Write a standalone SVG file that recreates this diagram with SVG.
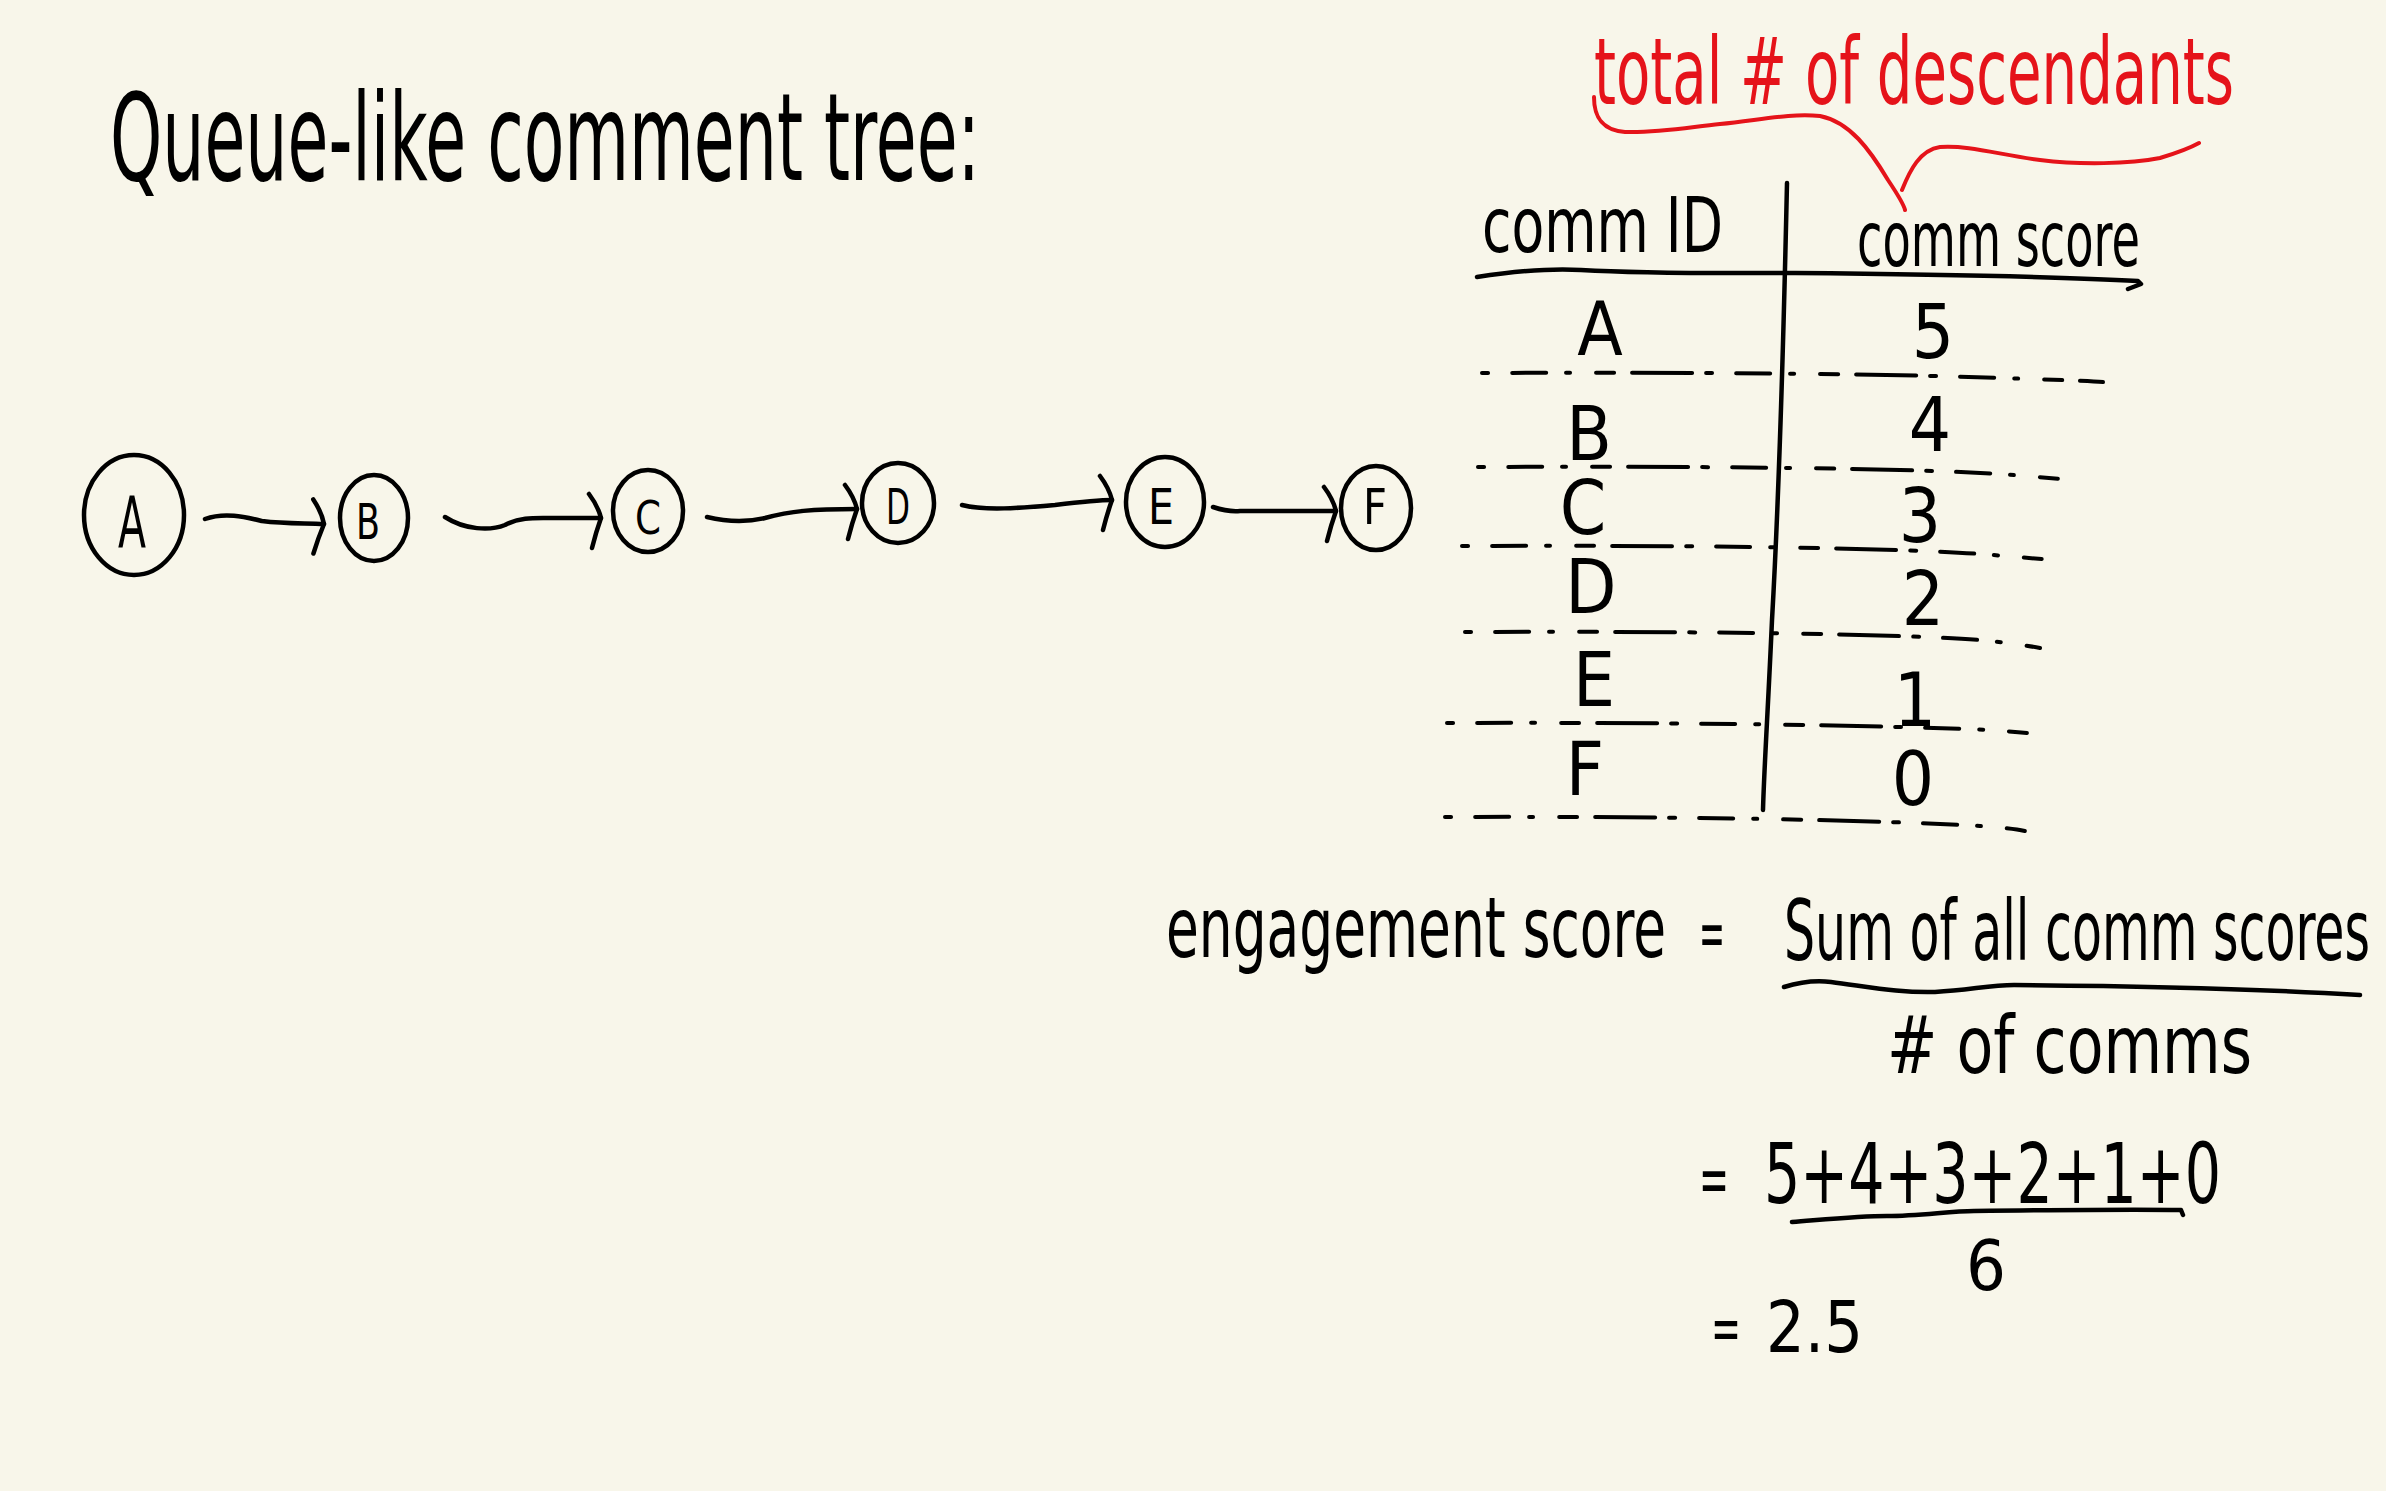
<svg xmlns="http://www.w3.org/2000/svg" width="2386" height="1491" viewBox="0 0 2386 1491">
<style>
.bg{fill:#F8F6EA}
.ink{fill:none;stroke:#000;stroke-width:4.5;stroke-linecap:round;stroke-linejoin:round}
.red{fill:none;stroke:#E5131A;stroke-width:4;stroke-linecap:round;stroke-linejoin:round}
.dash{fill:none;stroke:#000;stroke-width:4;stroke-linecap:round;stroke-dasharray:6 24 34 20 4 26 18 18 60 14}
.hw{font-family:"Liberation Sans Narrow","DejaVu Sans Condensed","Liberation Sans",sans-serif;fill:#000}
.hwr{font-family:"Liberation Sans Narrow","DejaVu Sans Condensed","Liberation Sans",sans-serif;fill:#E5131A}
.node{fill:none;stroke:#000;stroke-width:4.5}
.lbl{font-family:"Liberation Sans Narrow","DejaVu Sans Condensed","Liberation Sans",sans-serif;fill:#000;text-anchor:middle}
.cell{font-family:"Liberation Sans Narrow","DejaVu Sans Condensed","Liberation Sans",sans-serif;fill:#000;text-anchor:middle;font-size:74px}
</style>
<defs>
<marker id="head" viewBox="-16 -30 22 64" refX="0" refY="0" markerWidth="22" markerHeight="64" markerUnits="userSpaceOnUse" orient="auto" overflow="visible">
<path d="M-12,-24 Q-3,-12 0,0 Q-5,14 -9,30" fill="none" stroke="#000" stroke-width="4.5" stroke-linecap="round"/>
</marker>
</defs>
<rect class="bg" x="0" y="0" width="2386" height="1491"/>

<g id="title">
<text class="hw" x="110" y="180" font-size="122" textLength="870" lengthAdjust="spacingAndGlyphs">Queue-like comment tree:</text>
</g>

<g id="connectors">
<path class="ink" marker-end="url(#head)" d="M205,519 C225,512 245,517 262,521 C285,524 305,523 324,524"/>
<path class="ink" marker-end="url(#head)" d="M445,517 C465,530 490,531 505,525 C520,517 535,518 550,518 L601,518"/>
<path class="ink" marker-end="url(#head)" d="M707,517 C728,522 748,522 765,518 C790,511 812,509 857,509"/>
<path class="ink" marker-end="url(#head)" d="M962,505 C985,511 1020,508 1055,505 C1080,502 1100,500 1112,500"/>
<path class="ink" marker-end="url(#head)" d="M1213,507 C1222,510 1230,512 1240,511 L1336,511"/>
</g>

<g id="node-A">
<ellipse class="node" cx="134" cy="515" rx="50" ry="60"/>
<text class="lbl" x="132" y="547" font-size="72" textLength="28" lengthAdjust="spacingAndGlyphs">A</text>
</g>
<g id="node-B">
<ellipse class="node" cx="374" cy="518" rx="34" ry="43"/>
<text class="lbl" x="368" y="539" font-size="50" textLength="24" lengthAdjust="spacingAndGlyphs">B</text>
</g>
<g id="node-C">
<ellipse class="node" cx="648" cy="511" rx="35" ry="41"/>
<text class="lbl" x="648" y="534" font-size="46" textLength="26" lengthAdjust="spacingAndGlyphs">C</text>
</g>
<g id="node-D">
<ellipse class="node" cx="898" cy="503" rx="36" ry="40"/>
<text class="lbl" x="898" y="524" font-size="50" textLength="24" lengthAdjust="spacingAndGlyphs">D</text>
</g>
<g id="node-E">
<ellipse class="node" cx="1165" cy="502" rx="39" ry="45"/>
<text class="lbl" x="1161" y="524" font-size="50" textLength="26" lengthAdjust="spacingAndGlyphs">E</text>
</g>
<g id="node-F">
<ellipse class="node" cx="1376" cy="508" rx="35" ry="42"/>
<text class="lbl" x="1375" y="524" font-size="50" textLength="24" lengthAdjust="spacingAndGlyphs">F</text>
</g>

<g id="annotation">
<text class="hwr" x="1594" y="104" font-size="92" textLength="640" lengthAdjust="spacingAndGlyphs">total # of descendants</text>
<path class="red" d="M1594,97 C1594,115 1600,130 1625,132 C1660,133 1690,127 1720,124 C1760,120 1790,113 1820,116 C1850,122 1870,150 1888,180 C1898,195 1904,205 1905,210"/>
<path class="red" d="M1902,190 C1910,170 1920,150 1940,147 C1970,145 2000,155 2040,160 C2080,165 2130,164 2160,158 C2180,152 2190,148 2199,143"/>
</g>

<g id="table">
<text class="hw" x="1482" y="252" font-size="76" textLength="241" lengthAdjust="spacingAndGlyphs">comm ID</text>
<text class="hw" x="1857" y="266" font-size="76" textLength="283" lengthAdjust="spacingAndGlyphs">comm score</text>
<path class="ink" d="M1787,183 C1784,320 1780,480 1772,620 C1768,710 1764,770 1763,810"/>
<path class="ink" d="M1477,277 C1510,272 1550,268 1581,270 C1650,274 1720,273 1795,273 C1900,274 2050,276 2138,281 L2141,284 L2128,289"/>
<path class="dash" d="M1482,373 C1700,372 1900,374 2000,378 C2060,380 2090,381 2103,382"/>
<path class="dash" d="M1478,467 C1700,466 1900,468 2000,474 C2040,477 2060,479 2070,480"/>
<path class="dash" d="M1462,546 C1700,545 1900,548 1980,554 C2020,557 2040,559 2052,560"/>
<path class="dash" d="M1465,632 C1700,631 1900,634 1980,640 C2010,643 2030,646 2040,648"/>
<path class="dash" d="M1447,723 C1700,722 1900,726 1990,730 C2020,732 2035,734 2043,735"/>
<path class="dash" d="M1445,817 C1700,816 1900,821 1980,826 C2010,828 2022,830 2029,832"/>
<text class="cell" x="1600" y="355">A</text>
<text class="cell" x="1933" y="358">5</text>
<text class="cell" x="1589" y="460">B</text>
<text class="cell" x="1930" y="451">4</text>
<text class="cell" x="1583" y="534">C</text>
<text class="cell" x="1920" y="542">3</text>
<text class="cell" x="1591" y="613">D</text>
<text class="cell" x="1923" y="625">2</text>
<text class="cell" x="1594" y="706">E</text>
<text class="cell" x="1915" y="726">1</text>
<text class="cell" x="1585" y="795">F</text>
<text class="cell" x="1913" y="805">0</text>
</g>

<g id="formula">
<text class="hw" x="1166" y="957" font-size="84" textLength="500" lengthAdjust="spacingAndGlyphs">engagement score</text>
<text class="hw" x="1699" y="957" font-size="70" textLength="26" lengthAdjust="spacingAndGlyphs">=</text>
<text class="hw" x="1784" y="960" font-size="84" textLength="586" lengthAdjust="spacingAndGlyphs">Sum of all comm scores</text>
<path class="ink" d="M1784,987 C1800,982 1815,980 1831,982 C1870,987 1900,993 1935,992 C1970,990 1990,985 2014,985 C2150,986 2280,990 2360,995"/>
<text class="hw" x="1887" y="1073" font-size="80" textLength="365" lengthAdjust="spacingAndGlyphs"># of comms</text>
<text class="hw" x="1699" y="1203" font-size="70" textLength="30" lengthAdjust="spacingAndGlyphs">=</text>
<text class="hw" x="1764" y="1203" font-size="84" textLength="457" lengthAdjust="spacingAndGlyphs">5+4+3+2+1+0</text>
<path class="ink" d="M1792,1222 C1830,1219 1860,1216 1887,1216 C1920,1216 1950,1211 1974,1211 C2050,1210 2130,1209 2181,1210 L2183,1215"/>
<text class="hw" x="1966" y="1290" font-size="70" textLength="40" lengthAdjust="spacingAndGlyphs">6</text>
<text class="hw" x="1711" y="1350" font-size="62" textLength="30" lengthAdjust="spacingAndGlyphs">=</text>
<text class="hw" x="1766" y="1352" font-size="72" textLength="97" lengthAdjust="spacingAndGlyphs">2.5</text>
</g>
</svg>
